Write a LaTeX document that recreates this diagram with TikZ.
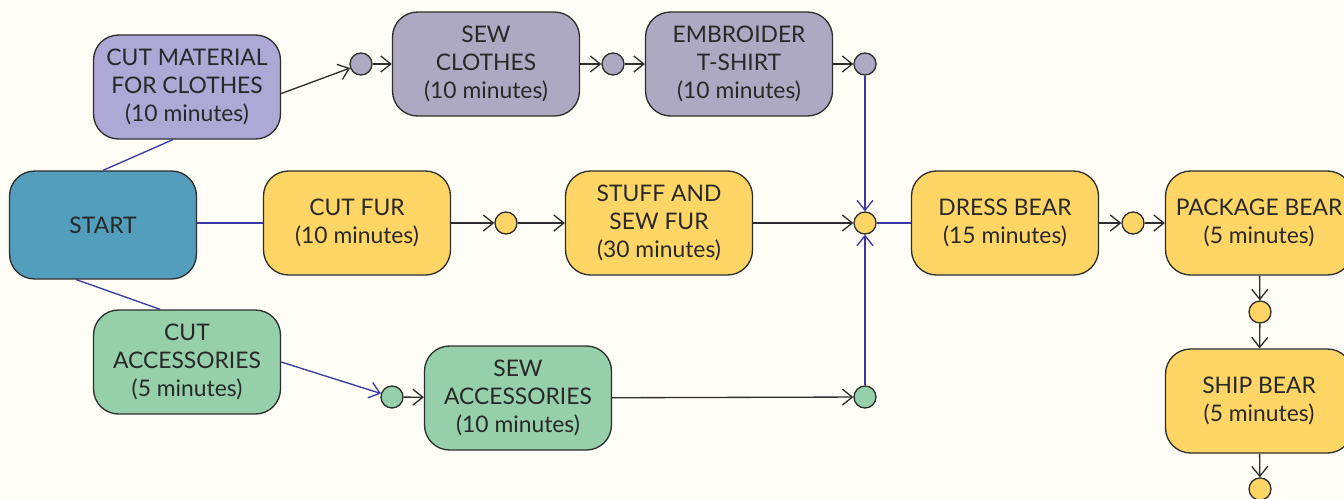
\documentclass[tikz,border=0pt]{standalone}
\usepackage{fontspec}
\setmainfont{Lato}
\usetikzlibrary{arrows.meta}

\definecolor{bgcream}{RGB}{254,254,246}
\definecolor{boxline}{RGB}{45,45,45}
\definecolor{textgray}{RGB}{40,40,40}
\definecolor{linkblue}{RGB}{55,55,165}
\definecolor{startblue}{RGB}{83,158,189}
\definecolor{lavender}{RGB}{173,168,213}
\definecolor{purplegray}{RGB}{174,169,194}
\definecolor{bearyellow}{RGB}{255,214,102}
\definecolor{accgreen}{RGB}{150,208,170}

\tikzset{
  task/.style={draw=boxline, line width=0.75pt, rounded corners=0.5cm,
    minimum width=3.74cm, minimum height=2.08cm, align=center,
    text=textgray, font=\fontsize{13}{15.8}\selectfont},
  dot/.style={circle, draw=boxline, line width=0.75pt, minimum size=0.44cm, inner sep=0pt},
  flow/.style={draw=boxline, line width=0.75pt, -{Straight Barb[length=2mm,width=3.2mm]}},
  link/.style={draw=linkblue, line width=0.75pt},
  linkarrow/.style={link, -{Straight Barb[length=2mm,width=3.2mm]}}
}

\begin{document}
\begin{tikzpicture}[x=0.02cm,y=-0.02cm]
\fill[bgcream] (0,0) rectangle (1344,498);
\useasboundingbox (0,0) rectangle (1344,498);

% tasks
\node[task, fill=startblue, minimum height=2.16cm] (start) at (103,225) {START};
\node[task, fill=lavender] (cutmat) at (187,87) {CUT MATERIAL\\FOR CLOTHES\\(10 minutes)};
\node[task, fill=purplegray] (sewclo) at (486,64) {SEW\\CLOTHES\\(10 minutes)};
\node[task, fill=purplegray] (embroid) at (739,64) {EMBROIDER\\T-SHIRT\\(10 minutes)};
\node[task, fill=bearyellow] (cutfur) at (357,223) {CUT FUR\\(10 minutes)};
\node[task, fill=bearyellow] (stuff) at (659,223) {STUFF AND\\SEW FUR\\(30 minutes)};
\node[task, fill=bearyellow] (dress) at (1005,223) {DRESS BEAR\\(15 minutes)};
\node[task, fill=bearyellow] (package) at (1259,223) {PACKAGE BEAR\\(5 minutes)};
\node[task, fill=bearyellow] (ship) at (1259,401) {SHIP BEAR\\(5 minutes)};
\node[task, fill=accgreen] (cutacc) at (187,362) {CUT\\ACCESSORIES\\(5 minutes)};
\node[task, fill=accgreen] (sewacc) at (518,398) {SEW\\ACCESSORIES\\(10 minutes)};

% events
\node[dot, fill=purplegray] (c1) at (361,64) {};
\node[dot, fill=purplegray] (c2) at (613,64) {};
\node[dot, fill=purplegray] (c3) at (865,64) {};
\node[dot, fill=bearyellow] (f1) at (506,223) {};
\node[dot, fill=bearyellow] (join) at (865,223) {};
\node[dot, fill=bearyellow] (d1) at (1133,223) {};
\node[dot, fill=bearyellow] (p1) at (1260,312) {};
\node[dot, fill=bearyellow] (s1) at (1260,489) {};
\node[dot, fill=accgreen] (a1) at (392,397) {};
\node[dot, fill=accgreen] (a2) at (865,397) {};

% connectors
\draw[link] (start.north) -- (cutmat.-105);
\draw[link] (start.east |- cutfur.west) -- (cutfur.west);
\draw[link] (start.-116) -- (cutacc.117);
\draw[flow] (cutmat.-4) -- (c1);
\draw[flow] (c1) -- (sewclo);
\draw[flow] (sewclo) -- (c2);
\draw[flow] (c2) -- (embroid);
\draw[flow] (embroid) -- (c3);
\draw[linkarrow] (c3) -- (join);
\draw[flow] (cutfur) -- (f1);
\draw[flow] (f1) -- (stuff);
\draw[flow] (stuff) -- (join);
\draw[link] (join) -- (dress);
\draw[flow] (dress) -- (d1);
\draw[flow] (d1) -- (package);
\draw[flow] (package) -- (p1);
\draw[flow] (p1) -- (ship);
\draw[flow] (ship) -- (s1);
\draw[linkarrow] (cutacc.east) -- (a1);
\draw[flow] (a1) -- (sewacc);
\draw[flow] (sewacc) -- (a2);
\draw[linkarrow] (a2) -- (join);
\end{tikzpicture}
\end{document}
